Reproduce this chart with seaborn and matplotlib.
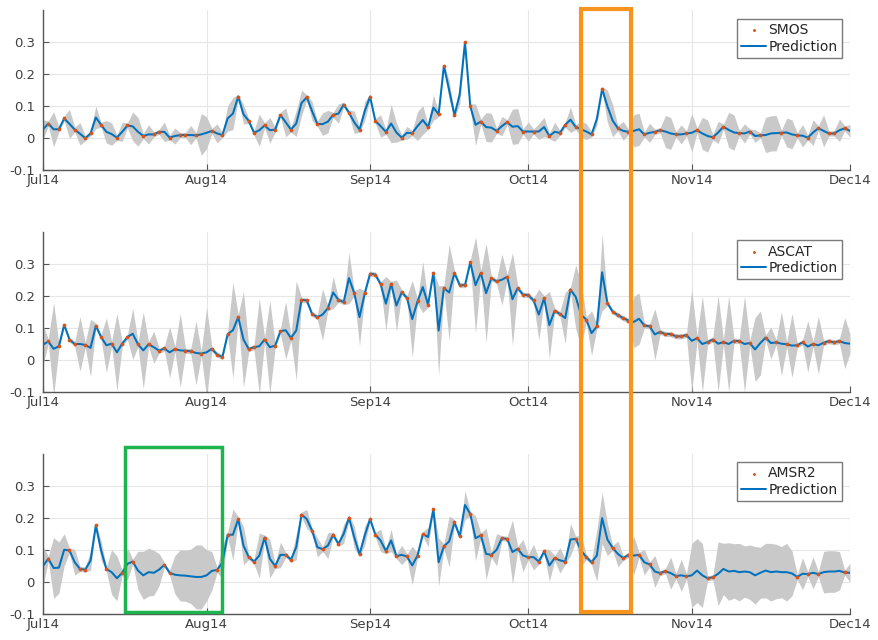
"""
Three soil moisture panels (SMOS, ASCAT, AMSR2) with the prediction line,
its uncertainty band and the observed days, Jul14 - Dec14.
"""

# %% ---- Requirements and constants
import pandas as pd
import seaborn as sns
import matplotlib.pyplot as plt
import matplotlib.dates as mdates
from matplotlib.patches import Rectangle
from matplotlib.ticker import FuncFormatter

dates = pd.date_range('2014-07-01', '2014-12-01', freq='D')  # 154 days

# SMOS panel
smos_pred = [
    0.028, 0.046, 0.028, 0.028, 0.062, 0.045, 0.027, 0.014, 0.000, 0.015,  # Jul 1-10
    0.065, 0.042, 0.020, 0.013, 0.002, 0.020, 0.040, 0.037, 0.020, 0.007,
    0.012, 0.012, 0.020, 0.020, 0.002, 0.007, 0.010, 0.010, 0.010, 0.009,
    0.012, 0.017, 0.023, 0.015, 0.010, 0.062, 0.077, 0.130, 0.075, 0.054,  # Aug
    0.017, 0.025, 0.040, 0.025, 0.027, 0.073, 0.050, 0.027, 0.046, 0.110,
    0.128, 0.085, 0.045, 0.044, 0.052, 0.073, 0.077, 0.105, 0.080, 0.050,
    0.027, 0.085, 0.130, 0.054, 0.038, 0.020, 0.046, 0.018, 0.002, 0.017,  # Sep
    0.016, 0.038, 0.057, 0.035, 0.096, 0.075, 0.226, 0.150, 0.072, 0.137,
    0.300, 0.100, 0.042, 0.052, 0.035, 0.033, 0.023, 0.038, 0.050, 0.036,
    0.038, 0.021, 0.021, 0.021, 0.021, 0.035, 0.007, 0.020, 0.017, 0.042,  # Oct
    0.058, 0.035, 0.028, 0.021, 0.012, 0.060, 0.154, 0.100, 0.055, 0.031,
    0.023, 0.020, 0.023, 0.028, 0.012, 0.017, 0.020, 0.025, 0.021, 0.015,
    0.012, 0.012, 0.015, 0.017, 0.025, 0.015, 0.007, 0.003, 0.018, 0.036,  # Nov
    0.026, 0.018, 0.016, 0.015, 0.021, 0.007, 0.009, 0.010, 0.015, 0.016,
    0.017, 0.018, 0.012, 0.009, 0.008, 0.002, 0.018, 0.031, 0.023, 0.015,
    0.015, 0.025, 0.031, 0.023,
]
smos_band = [
    0.030, 0.008, 0.055, 0.008, 0.008, 0.045, 0.008, 0.035, 0.008, 0.008,
    0.035, 0.008, 0.035, 0.035, 0.008, 0.030, 0.008, 0.045, 0.045, 0.008,
    0.030, 0.008, 0.008, 0.030, 0.008, 0.025, 0.008, 0.008, 0.030, 0.008,
    0.065, 0.050, 0.008, 0.030, 0.008, 0.040, 0.050, 0.008, 0.030, 0.008,
    0.008, 0.050, 0.008, 0.040, 0.008, 0.008, 0.045, 0.008, 0.040, 0.040,
    0.008, 0.030, 0.008, 0.035, 0.035, 0.008, 0.030, 0.008, 0.008, 0.035,
    0.008, 0.030, 0.008, 0.008, 0.035, 0.008, 0.060, 0.030, 0.008, 0.020,
    0.008, 0.045, 0.045, 0.008, 0.040, 0.008, 0.008, 0.030, 0.008, 0.030,
    0.008, 0.008, 0.065, 0.008, 0.045, 0.045, 0.008, 0.030, 0.008, 0.055,
    0.055, 0.008, 0.030, 0.008, 0.025, 0.030, 0.008, 0.030, 0.008, 0.008,
    0.040, 0.008, 0.025, 0.025, 0.008, 0.020, 0.008, 0.050, 0.050, 0.008,
    0.030, 0.008, 0.050, 0.050, 0.008, 0.030, 0.008, 0.008, 0.050, 0.050,
    0.008, 0.030, 0.008, 0.060, 0.008, 0.050, 0.050, 0.008, 0.035, 0.008,
    0.055, 0.055, 0.008, 0.030, 0.008, 0.020, 0.008, 0.055, 0.055, 0.055,
    0.008, 0.045, 0.045, 0.008, 0.035, 0.008, 0.040, 0.008, 0.050, 0.008,
    0.008, 0.035, 0.008, 0.020,
]
smos_days = [
    1, 3, 4, 6, 8, 9, 11, 14, 16, 19, 21, 22, 24, 26, 27, 29, 32, 34, 37, 39,
    40, 42, 44, 45, 47, 50, 52, 55, 57, 58, 60, 62, 63, 65, 68, 70, 73, 75, 76,
    78, 80, 81, 83, 86, 88, 91, 93, 96, 98, 99, 101, 104, 106, 109, 111, 114,
    116, 117, 120, 122, 124, 127, 129, 132, 134, 136, 140, 143, 145, 147, 149,
    150, 152,
]

# ASCAT panel
ascat_pred = [
    0.048, 0.058, 0.035, 0.043, 0.110, 0.064, 0.050, 0.050, 0.047, 0.038,
    0.107, 0.072, 0.046, 0.051, 0.024, 0.051, 0.072, 0.082, 0.049, 0.030,
    0.049, 0.040, 0.029, 0.036, 0.024, 0.034, 0.030, 0.029, 0.027, 0.022,
    0.020, 0.024, 0.035, 0.017, 0.009, 0.081, 0.093, 0.134, 0.064, 0.034,
    0.040, 0.043, 0.064, 0.040, 0.045, 0.090, 0.093, 0.069, 0.092, 0.188,
    0.186, 0.144, 0.134, 0.142, 0.162, 0.211, 0.188, 0.181, 0.256, 0.209,
    0.134, 0.209, 0.270, 0.267, 0.237, 0.176, 0.238, 0.170, 0.212, 0.194,
    0.128, 0.183, 0.228, 0.173, 0.272, 0.092, 0.225, 0.211, 0.272, 0.234,
    0.234, 0.305, 0.234, 0.272, 0.209, 0.255, 0.246, 0.251, 0.260, 0.190,
    0.225, 0.204, 0.203, 0.186, 0.142, 0.193, 0.109, 0.154, 0.144, 0.131,
    0.220, 0.197, 0.142, 0.126, 0.084, 0.105, 0.274, 0.178, 0.151, 0.140,
    0.131, 0.123, 0.119, 0.129, 0.108, 0.105, 0.080, 0.088, 0.081, 0.081,
    0.074, 0.074, 0.078, 0.060, 0.068, 0.050, 0.056, 0.064, 0.051, 0.056,
    0.050, 0.060, 0.059, 0.050, 0.053, 0.033, 0.053, 0.070, 0.053, 0.055,
    0.051, 0.049, 0.045, 0.046, 0.055, 0.042, 0.050, 0.046, 0.054, 0.059,
    0.055, 0.059, 0.053, 0.051,
]
ascat_band = [
    0.060, 0.008, 0.145, 0.008, 0.008, 0.008, 0.008, 0.085, 0.008, 0.090,
    0.008, 0.008, 0.085, 0.008, 0.120, 0.008, 0.008, 0.080, 0.008, 0.120,
    0.008, 0.050, 0.008, 0.008, 0.080, 0.008, 0.115, 0.008, 0.008, 0.100,
    0.008, 0.140, 0.008, 0.008, 0.008, 0.008, 0.150, 0.008, 0.150, 0.008,
    0.008, 0.150, 0.008, 0.145, 0.008, 0.008, 0.090, 0.008, 0.155, 0.008,
    0.008, 0.008, 0.008, 0.080, 0.008, 0.050, 0.008, 0.008, 0.080, 0.008,
    0.090, 0.008, 0.008, 0.008, 0.008, 0.085, 0.008, 0.080, 0.008, 0.008,
    0.120, 0.008, 0.080, 0.008, 0.008, 0.140, 0.008, 0.150, 0.008, 0.008,
    0.008, 0.008, 0.150, 0.008, 0.155, 0.008, 0.008, 0.080, 0.008, 0.145,
    0.008, 0.008, 0.008, 0.008, 0.080, 0.008, 0.105, 0.008, 0.008, 0.080,
    0.008, 0.100, 0.100, 0.008, 0.070, 0.008, 0.120, 0.008, 0.008, 0.008,
    0.008, 0.008, 0.080, 0.080, 0.008, 0.008, 0.080, 0.008, 0.008, 0.008,
    0.008, 0.008, 0.008, 0.160, 0.008, 0.150, 0.008, 0.008, 0.150, 0.008,
    0.150, 0.008, 0.008, 0.150, 0.008, 0.100, 0.100, 0.008, 0.050, 0.008,
    0.100, 0.008, 0.100, 0.008, 0.008, 0.080, 0.008, 0.090, 0.008, 0.008,
    0.008, 0.008, 0.080, 0.030,
]
ascat_days = [
    1, 3, 4, 5, 6, 8, 10, 11, 13, 15, 16, 18, 20, 22, 23, 25, 27, 28, 30, 32,
    33, 34, 35, 37, 39, 40, 42, 44, 45, 47, 49, 50, 51, 52, 54, 56, 57, 59, 61,
    62, 63, 64, 66, 68, 69, 71, 73, 74, 76, 78, 79, 80, 81, 83, 85, 86, 88, 90,
    91, 92, 93, 95, 97, 98, 100, 103, 105, 107, 108, 109, 110, 111, 114, 115,
    117, 118, 119, 120, 121, 122, 124, 126, 127, 129, 131, 132, 134, 137, 139,
    141, 143, 144, 146, 148, 149, 150, 151,
]

# AMSR2 panel
amsr2_pred = [
    0.050, 0.072, 0.043, 0.044, 0.100, 0.098, 0.061, 0.040, 0.038, 0.066,
    0.176, 0.098, 0.040, 0.030, 0.011, 0.028, 0.056, 0.063, 0.035, 0.020,
    0.030, 0.028, 0.038, 0.053, 0.028, 0.022, 0.020, 0.019, 0.017, 0.015,
    0.015, 0.020, 0.034, 0.037, 0.060, 0.147, 0.147, 0.196, 0.113, 0.077,
    0.063, 0.082, 0.138, 0.072, 0.049, 0.084, 0.084, 0.069, 0.108, 0.210,
    0.196, 0.160, 0.108, 0.102, 0.113, 0.147, 0.118, 0.150, 0.200, 0.139,
    0.086, 0.145, 0.196, 0.147, 0.129, 0.096, 0.129, 0.080, 0.084, 0.079,
    0.051, 0.082, 0.149, 0.140, 0.227, 0.061, 0.111, 0.126, 0.186, 0.142,
    0.240, 0.212, 0.136, 0.145, 0.087, 0.084, 0.100, 0.136, 0.134, 0.093,
    0.103, 0.082, 0.077, 0.077, 0.063, 0.095, 0.051, 0.074, 0.067, 0.063,
    0.132, 0.134, 0.098, 0.077, 0.061, 0.082, 0.199, 0.132, 0.106, 0.087,
    0.074, 0.084, 0.082, 0.084, 0.061, 0.054, 0.032, 0.027, 0.033, 0.027,
    0.018, 0.020, 0.017, 0.020, 0.035, 0.020, 0.011, 0.014, 0.025, 0.040,
    0.032, 0.034, 0.030, 0.032, 0.030, 0.020, 0.028, 0.035, 0.030, 0.032,
    0.030, 0.030, 0.026, 0.015, 0.025, 0.024, 0.028, 0.024, 0.030, 0.032,
    0.032, 0.034, 0.029, 0.028,
]
amsr2_band = [
    0.060, 0.008, 0.095, 0.080, 0.050, 0.008, 0.040, 0.008, 0.008, 0.030,
    0.008, 0.030, 0.008, 0.070, 0.070, 0.008, 0.050, 0.008, 0.060, 0.075,
    0.075, 0.070, 0.050, 0.008, 0.008, 0.060, 0.080, 0.080, 0.085, 0.100,
    0.100, 0.080, 0.060, 0.008, 0.050, 0.008, 0.080, 0.008, 0.060, 0.008,
    0.008, 0.070, 0.008, 0.060, 0.008, 0.040, 0.008, 0.008, 0.040, 0.008,
    0.030, 0.008, 0.030, 0.008, 0.040, 0.008, 0.008, 0.030, 0.008, 0.035,
    0.008, 0.030, 0.008, 0.008, 0.035, 0.008, 0.035, 0.008, 0.030, 0.008,
    0.060, 0.008, 0.008, 0.030, 0.008, 0.075, 0.008, 0.080, 0.008, 0.008,
    0.045, 0.008, 0.070, 0.008, 0.080, 0.008, 0.050, 0.008, 0.008, 0.100,
    0.008, 0.050, 0.008, 0.040, 0.008, 0.008, 0.050, 0.008, 0.040, 0.008,
    0.050, 0.008, 0.050, 0.008, 0.008, 0.080, 0.080, 0.050, 0.008, 0.040,
    0.008, 0.008, 0.060, 0.008, 0.040, 0.008, 0.050, 0.008, 0.008, 0.050,
    0.008, 0.050, 0.008, 0.100, 0.100, 0.100, 0.008, 0.008, 0.100, 0.080,
    0.090, 0.085, 0.090, 0.080, 0.085, 0.090, 0.080, 0.085, 0.090, 0.085,
    0.080, 0.090, 0.070, 0.008, 0.050, 0.008, 0.050, 0.008, 0.065, 0.065,
    0.065, 0.060, 0.008, 0.030,
]
amsr2_days = [
    1, 5, 7, 8, 10, 12, 15, 17, 23, 24, 33, 35, 37, 39, 40, 42, 44, 46, 47, 49,
    51, 53, 55, 56, 58, 60, 62, 63, 65, 67, 69, 71, 72, 74, 76, 78, 79, 81, 83,
    85, 87, 88, 90, 92, 94, 95, 97, 99, 101, 103, 104, 108, 110, 111, 113, 115,
    117, 118, 120, 122, 126, 127, 143, 145, 147, 152,
]

# highlighted periods
orange_span = ('2014-10-11', '2014-10-20 10:00')
green_span = ('2014-07-16 12:00', '2014-08-03 21:00')


# %% ---- Plot
sns.set_theme(style='white')
plt.rcParams['font.family'] = ['DejaVu Sans']

blue = '#0072BD'
red = '#D95319'

panels = [
    ('SMOS', smos_pred, smos_band, smos_days, [0.049, 0.734, 0.918, 0.25]),
    ('ASCAT', ascat_pred, ascat_band, ascat_days, [0.049, 0.3875, 0.918, 0.25]),
    ('AMSR2', amsr2_pred, amsr2_band, amsr2_days, [0.049, 0.041, 0.918, 0.25]),
]

fig = plt.figure(figsize=(8.79, 6.4), dpi=100)
axes = []
for name, pred, band, days, pos in panels:
    ax = fig.add_axes(pos)
    df = pd.DataFrame({'date': dates, 'pred': pred, 'band': band})
    obs = df.iloc[days]

    ax.fill_between(df['date'], df['pred'] - df['band'], df['pred'] + df['band'],
                    color='#c9c9c9', lw=0, zorder=1)
    sns.lineplot(data=df, x='date', y='pred', ax=ax, color=blue, lw=1.45,
                 label='Prediction', zorder=2)
    sns.scatterplot(data=obs, x='date', y='pred', ax=ax, color=red, s=7,
                    linewidth=0, label=name, zorder=3)

    ax.set_xlim(dates[0], dates[-1])
    ax.set_ylim(-0.1, 0.4)
    ax.set_yticks([-0.1, 0, 0.1, 0.2, 0.3])
    ax.yaxis.set_major_formatter(FuncFormatter(lambda v, _: '0' if abs(v) < 1e-9 else f'{v:.1f}'))
    ax.xaxis.set_major_locator(mdates.MonthLocator())
    ax.xaxis.set_major_formatter(mdates.DateFormatter('%b%y'))
    ax.set_xlabel('')
    ax.set_ylabel('')

    ax.grid(True, color='#e6e6e6', lw=0.8)
    ax.set_axisbelow(True)
    for side in ['top', 'right']:
        ax.spines[side].set_visible(False)
    for side in ['left', 'bottom']:
        ax.spines[side].set_color('#555555')
        ax.spines[side].set_linewidth(1.0)
    ax.tick_params(axis='both', direction='in', length=4, width=0.8,
                   color='#555555', labelcolor='#404040', labelsize=9.5,
                   left=True, bottom=True)
    ax.tick_params(axis='y', pad=6)
    ax.tick_params(axis='x', pad=3)

    handles, labels = ax.get_legend_handles_labels()
    ax.legend(handles[::-1], labels[::-1], loc='upper right', fontsize=10,
              frameon=True, fancybox=False, framealpha=1, edgecolor='#7a7a7a',
              borderaxespad=0.6, handlelength=1.8, handletextpad=0.15,
              labelspacing=0.2, borderpad=0.3, markerscale=0.8)
    axes.append(ax)

# boxes around the highlighted periods, placed from their dates
to_fig = fig.transFigure.inverted()


def fig_x(ax, day):
    x_disp = ax.transData.transform((mdates.date2num(pd.Timestamp(day)), 0))
    return to_fig.transform(x_disp)[0]


def fig_y(ax, value):
    y_disp = ax.transData.transform((mdates.date2num(dates[0]), value))
    return to_fig.transform(y_disp)[1]


x0, x1 = fig_x(axes[0], orange_span[0]), fig_x(axes[0], orange_span[1])
y0, y1 = fig_y(axes[2], -0.095), fig_y(axes[0], 0.405)
fig.add_artist(Rectangle((x0, y0), x1 - x0, y1 - y0, transform=fig.transFigure,
                         fill=False, edgecolor='#F7941D', lw=3, zorder=10))

x0, x1 = fig_x(axes[2], green_span[0]), fig_x(axes[2], green_span[1])
y0, y1 = fig_y(axes[2], -0.095), fig_y(axes[2], 0.42)
fig.add_artist(Rectangle((x0, y0), x1 - x0, y1 - y0, transform=fig.transFigure,
                         fill=False, edgecolor='#1DB34D', lw=2.5, zorder=10))

fig.savefig('out.png', dpi=100)
